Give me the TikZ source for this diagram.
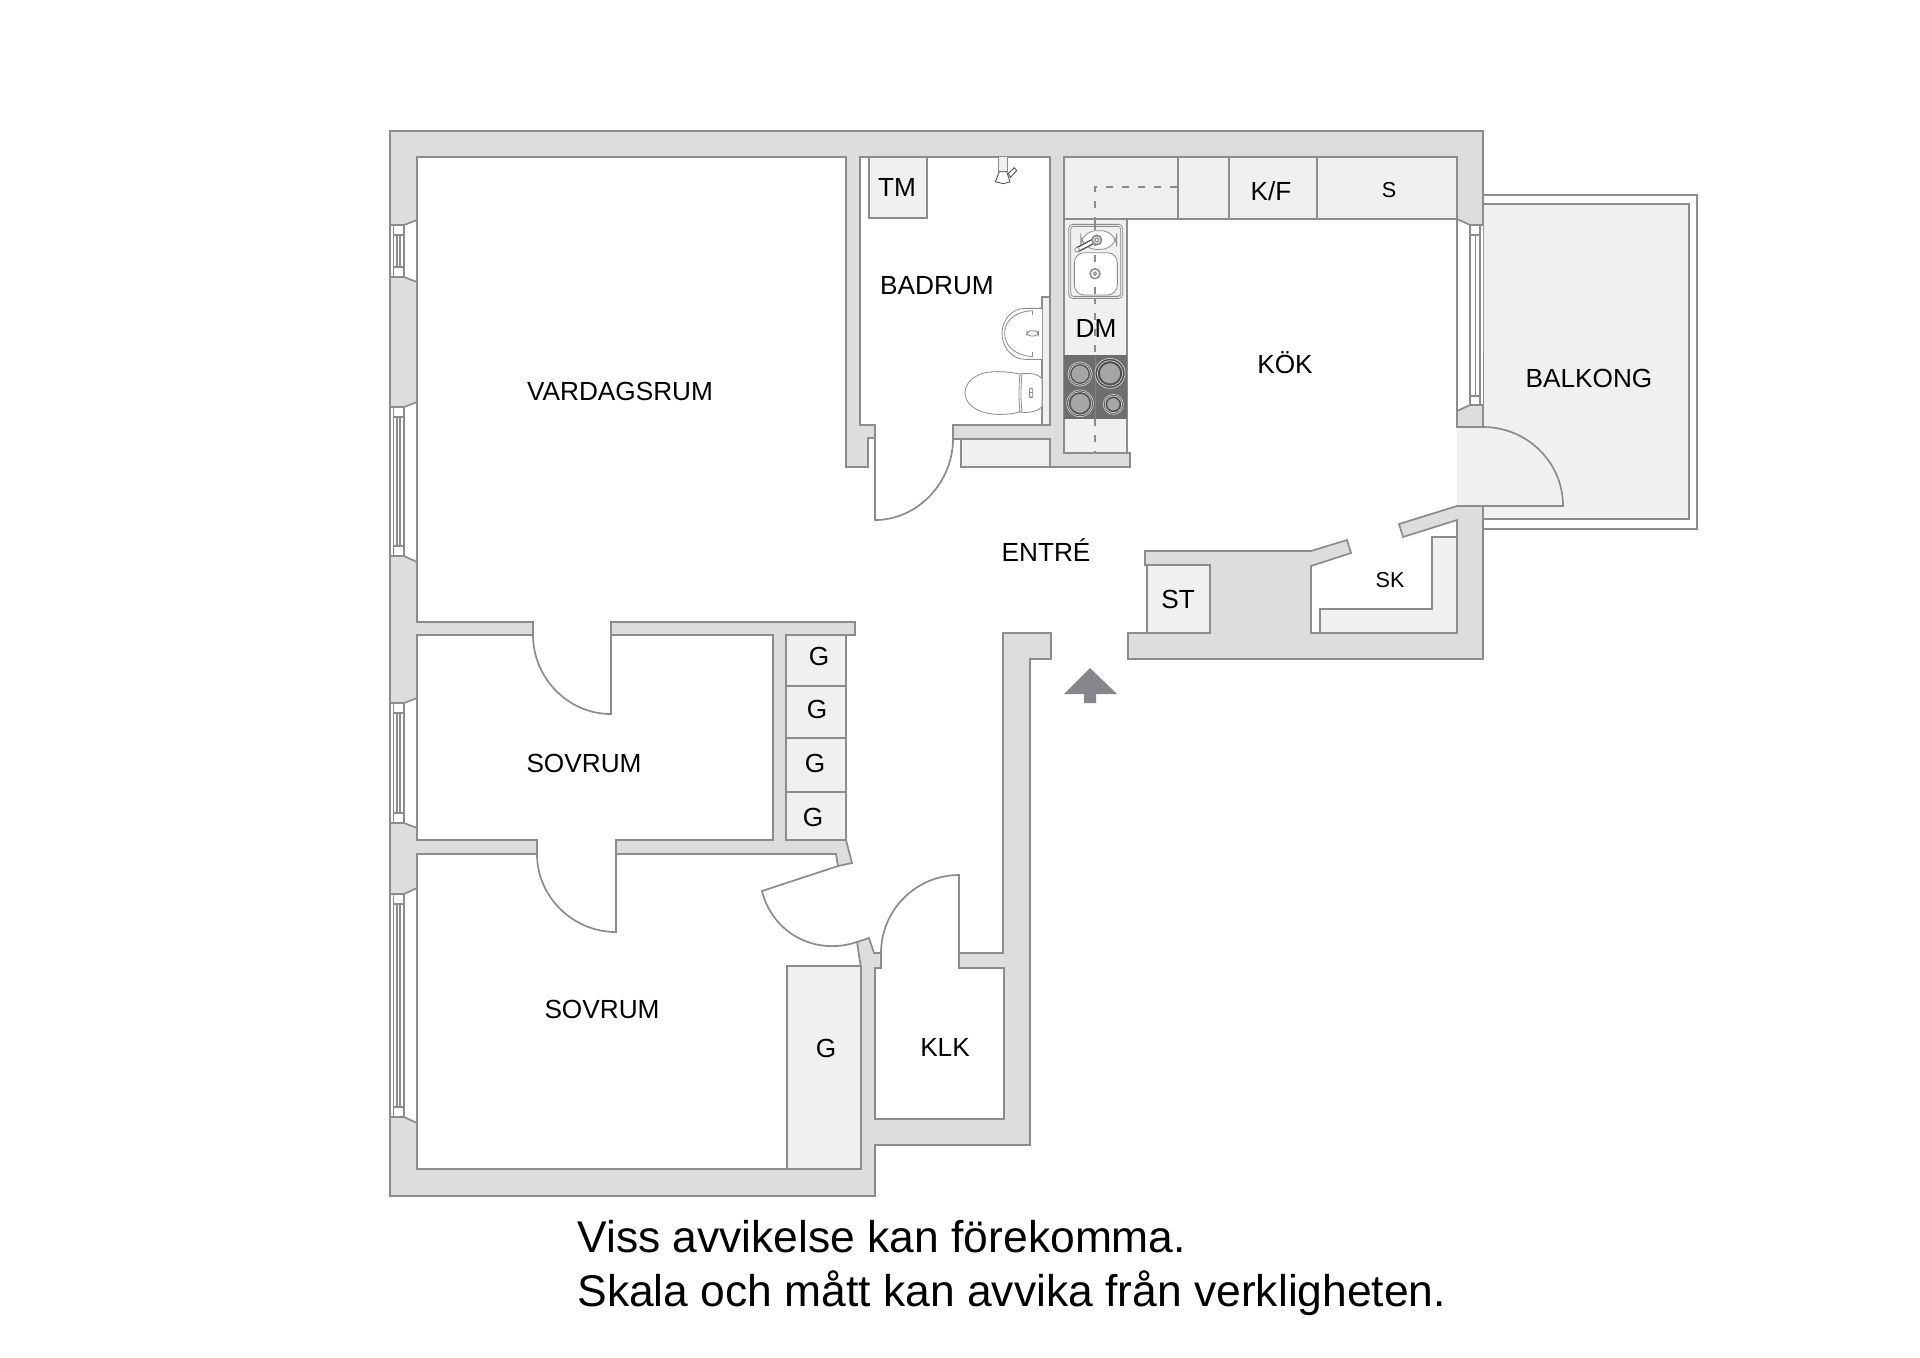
\documentclass[tikz,border=0pt]{standalone}
\usepackage{fontspec}
\setmainfont{Liberation Sans}
\definecolor{wallc}{HTML}{DDDDDD}
\definecolor{lightc}{HTML}{F0F0F0}
\definecolor{linec}{HTML}{8C8C8C}
\definecolor{hobc}{HTML}{6E6E6E}
\definecolor{arrowc}{HTML}{87878B}
\tikzset{
  wall/.style={fill=wallc,draw=linec,line width=0.85pt,line join=miter},
  unit/.style={fill=lightc,draw=linec,line width=0.85pt},
  lin/.style={draw=linec,line width=0.85pt},
  thin fix/.style={draw=linec,line width=0.4pt},
  service/.style={draw=black!45,line width=0.85pt,dash pattern=on 3.5pt off 4.5pt},
  lbl/.style={inner sep=0pt,anchor=base,text=black,font=\fontsize{13.1pt}{16pt}\selectfont},
  lblsm/.style={inner sep=0pt,anchor=base,text=black,font=\fontsize{10.8pt}{13pt}\selectfont},
  note/.style={inner sep=0pt,anchor=base west,text=black,font=\fontsize{22.2pt}{26pt}\selectfont},
}
% chamfer top, window top, window bottom, chamfer bottom
\newcommand\WinLeft[4]{
  \fill[white] (390,#2) -- (404,#2) -- (417,#1) -- (417,#4) -- (404,#3) -- (390,#3) -- cycle;
  \draw[lin] (390,#2) -- (404,#2) -- (417,#1) -- (417,#4) -- (404,#3) -- (390,#3);
  \draw[lin] (390,#2) -- (390,#3) (393.5,#2) -- (393.5,#3) (404,#2) -- (404,#3);
  \draw[lin] (397,#2) -- (397,#3) (400,#2) -- (400,#3);
  \draw[lin,fill=white] (393.5,#2) rectangle (404,{#2+10});
  \draw[lin,fill=white] (393.5,{#3-10}) rectangle (404,#3);
}
\begin{document}
\begin{tikzpicture}[x=0.5pt,y=-0.5pt]
\useasboundingbox (0,0) rectangle (1920,1357);
\fill[white] (0,0) rectangle (1920,1357);

% balcony
\draw[lin,fill=white] (1483,195) rectangle (1697,529);
\draw[unit] (1483,204) rectangle (1689,519);
% balcony door swing
\fill[lightc] (1457,427) -- (1483,427) .. controls (1527,427) and (1563,462) .. (1563,506) -- (1457,506) -- cycle;
\draw[lin] (1483,427) .. controls (1527,427) and (1563,462) .. (1563,506) -- (1483,506);

% walls
\draw[wall] (1483,427) -- (1483,131) -- (390,131) -- (390,1196) -- (875,1196) -- (875,1145) -- (1030,1145) -- (1030,659) -- (1051,659) -- (1051,633) -- (1003,633) -- (1003,953) -- (959,953) -- (959,968) -- (1004,968) -- (1004,1119) -- (875,1119) -- (875,968) -- (881,968) -- (881,953) -- (874,953) -- (869,938) -- (857,942) -- (861,968) -- (861,1169) -- (417,1169) -- (417,854) -- (537,854) -- (537,840) -- (417,840) -- (417,635) -- (533,635) -- (533,622) -- (417,622) -- (417,157) -- (846,157) -- (846,467) -- (868,467) -- (868,438) -- (875,438) -- (875,425) -- (860,425) -- (860,157) -- (1050,157) -- (1050,425) -- (953,425) -- (953,439) -- (1050,439) -- (1050,467) -- (1130,467) -- (1130,453) -- (1064,453) -- (1064,157) -- (1457,157) -- (1457,427) -- cycle;
\draw[wall] (611,622) -- (855,622) -- (855,635) -- (846,635) -- (846,840) -- (852,863) -- (838,866) -- (836,854) -- (616,854) -- (616,840) -- (773,840) -- (773,635) -- (611,635) -- cycle;
\draw[wall] (1457,506) -- (1483,506) -- (1483,659) -- (1128,659) -- (1128,633) -- (1147,633) -- (1147,565) -- (1145,565) -- (1145,551) -- (1311,551) -- (1347,540) -- (1351,553) -- (1311,566) -- (1311,633) -- (1457,633) -- (1457,520) -- (1403,537) -- (1399,524) -- cycle;

% windows, left side
\WinLeft{220}{225}{277}{282}
\WinLeft{402}{407}{556}{562}
\WinLeft{698}{703}{823}{828}
\WinLeft{888}{894}{1117}{1123}
% window, kitchen
\fill[white] (1457,219) -- (1470,225) -- (1483,225) -- (1483,405) -- (1470,405) -- (1457,411) -- cycle;
\draw[lin] (1457,219) -- (1470,225) -- (1483,225) (1457,219) -- (1457,411) -- (1470,405) -- (1483,405);
\draw[lin] (1470,225) -- (1470,405) (1475.5,225) -- (1475.5,405) (1480,225) -- (1480,405);
\draw[lin,fill=white] (1470,225) rectangle (1480,235);
\draw[lin,fill=white] (1470,396) rectangle (1480,405);
\draw[lin,line width=0.5pt] (1483.5,352) -- (1483.5,405);

% fitted units
\draw[unit] (869,157) rectangle (927,218);
\draw[unit] (1042,297) rectangle (1050,425);
\draw[unit] (961,439) rectangle (1050,467);
\draw[unit] (1064,157) rectangle (1178,219);
\draw[unit] (1178,157) rectangle (1229,219);
\draw[unit] (1229,157) rectangle (1317,219);
\draw[unit] (1317,157) rectangle (1457,219);
\draw[unit] (1064,219) rectangle (1127,453);
\draw[unit] (786,635) rectangle (846,686);
\draw[unit] (786,686) rectangle (846,738);
\draw[unit] (786,738) rectangle (846,792);
\draw[unit] (786,792) rectangle (846,840);
\draw[unit] (787,966) rectangle (861,1169);
\draw[unit] (1147,565) rectangle (1210,633);
\draw[unit] (1320,633) -- (1320,609) -- (1432,609) -- (1432,537) -- (1457,537) -- (1457,633) -- cycle;

% hob
\fill[hobc] (1064,355) rectangle (1127,419);
\draw[draw=black!50,line width=0.4pt] (1095,355) -- (1095,419);

% fixtures drawn in the coordinates of a 3x crop at (830,120)
\begin{scope}[shift={(830,120)},x=0.16667pt,y=-0.16667pt]
  % dashed service line
  \draw[service] (1040,200) -- (795,200) -- (795,705);
  \draw[service] (795,898) -- (795,998);
  % burners
  \foreach \cx/\cy/\ra/\rb/\rc in {750/762/36/31/27, 840/760/45/38/32, 750/850/40/35/30, 850/853/30/25/20}{
    \draw[draw=black!20,fill=black!70,line width=0.4pt] (\cx,\cy) circle[radius=\ra];
    \draw[draw=black!20,line width=0.4pt] (\cx,\cy) circle[radius=\rb];
    \draw[fill=black!35,draw=black!70,line width=0.4pt] (\cx,\cy) circle[radius=\rc];
  }
  % sink
  \draw[thin fix,fill=lightc,rounded corners=2pt] (716,313) rectangle (878,535);
  \draw[thin fix,rounded corners=1.5pt] (722,319) rectangle (872,529);
  \draw[thin fix,fill=white,rounded corners=8pt] (752,332) rectangle (860,388);
  \draw[thin fix,fill=white,rounded corners=5pt] (733,398) rectangle (862,525);
  \draw[service] (795,310) -- (795,535);
  \draw[draw=linec,line width=0.75pt,fill=white] (795,461) circle[radius=15];
  \draw[draw=linec,line width=0.6pt] (795,461) circle[radius=5];
  \draw[draw=black!70,line width=0.6pt,fill=white] (742,382) -- (798,352) -- (804,364) -- (746,394) -- cycle;
  \draw[thin fix,fill=white] (741,389) circle[radius=7];
  \draw[draw=linec,line width=0.9pt,fill=white] (800,360) circle[radius=14];
  \draw[draw=linec,line width=0.6pt] (800,360) circle[radius=6];
  % shower
  \draw[thin fix,fill=lightc] (505,110) rectangle (532,155);
  \draw[draw=black!70,line width=0.4pt,fill=white] (535,160) -- (553,143) -- (560,152) -- (541,172) -- cycle;
  \draw[draw=black!70,line width=0.4pt,fill=white] (496,185) -- (508,155) -- (530,155) -- (540,186) -- (520,191) -- cycle;
  % wash basin
  \draw[thin fix,fill=white] (636,565) -- (585,565) .. controls (545,565) and (516,600) .. (516,640) .. controls (516,680) and (545,718) .. (585,718) -- (636,718);
  \draw[thin fix] (608,572) -- (608,585) (608,695) -- (608,710);
  \draw[thin fix] (608,572) .. controls (550,575) and (524,605) .. (524,640) .. controls (524,675) and (550,705) .. (608,710);
  \draw[thin fix,fill=lightc,rounded corners=2pt] (590,632) rectangle (625,648);
  % toilet
  \draw[thin fix,fill=white] (570,762) .. controls (520,752) and (470,752) .. (445,765) .. controls (420,778) and (405,795) .. (405,818) .. controls (405,845) and (425,862) .. (450,873) .. controls (480,886) and (530,886) .. (570,876) -- cycle;
  \draw[thin fix,fill=white] (570,762) .. controls (600,758) and (625,762) .. (636,775) -- (636,860) .. controls (625,873) and (600,880) .. (570,876) .. controls (566,840) and (566,800) .. (570,762) -- cycle;
  \draw[thin fix] (576,762) .. controls (572,800) and (572,840) .. (576,876);
  \draw[thin fix,rounded corners=1pt] (598,805) rectangle (608,832);
  \draw[thin fix] (598,818) -- (608,818);
\end{scope}

% doors
\draw[lin,fill=white] (611,635) -- (611,714) .. controls (568,714) and (533,678) .. (533,635);
\draw[lin,fill=white] (616,854) -- (616,932) .. controls (573,932) and (537,897) .. (537,854);
\draw[lin] (838,866) -- (762,891) .. controls (772.5,933) and (815,956) .. (857,942);
\draw[lin] (881,953) .. controls (881,910) and (916,875) .. (959,875) -- (959,953);
\draw[lin] (953,439) .. controls (953,482) and (918,520) .. (875,520) -- (875,438);

% entrance arrow
\fill[arrowc] (1090,668) -- (1117,694) -- (1096,694) -- (1096,703) -- (1084,703) -- (1084,694) -- (1064,694) -- cycle;

% labels
\node[lbl] (vardagsrum) at (620,400.5) {VARDAGSRUM};
\node[lbl] (badrum) at (937,294.5) {BADRUM};
\node[lbl] (tm) at (897,196.5) {TM};
\node[lbl] (dm) at (1096,337.5) {DM};
\node[lbl] (kok) at (1285,373) {KÖK};
\node[lbl] (kf) at (1271,200) {K/F};
\node[lblsm] (s) at (1389,197) {S};
\node[lbl] (balkong) at (1589,387) {BALKONG};
\node[lbl] (entre) at (1046,561) {ENTRÉ};
\node[lbl] (st) at (1178,608.5) {ST};
\node[lblsm] (sk) at (1390,587) {SK};
\node[lbl] (sovrumA) at (584,772) {SOVRUM};
\node[lbl] (sovrumB) at (602,1018) {SOVRUM};
\node[lbl] (ga) at (819,665.5) {G};
\node[lbl] (gb) at (817,718.5) {G};
\node[lbl] (gc) at (815,772.5) {G};
\node[lbl] (gd) at (813,826.5) {G};
\node[lbl] (ge) at (826,1057) {G};
\node[lbl] (klk) at (945,1056) {KLK};
\node[note] (notea) at (577,1252) {Viss avvikelse kan förekomma.};
\node[note] (noteb) at (577,1306) {Skala och mått kan avvika från verkligheten.};
\end{tikzpicture}
\end{document}
